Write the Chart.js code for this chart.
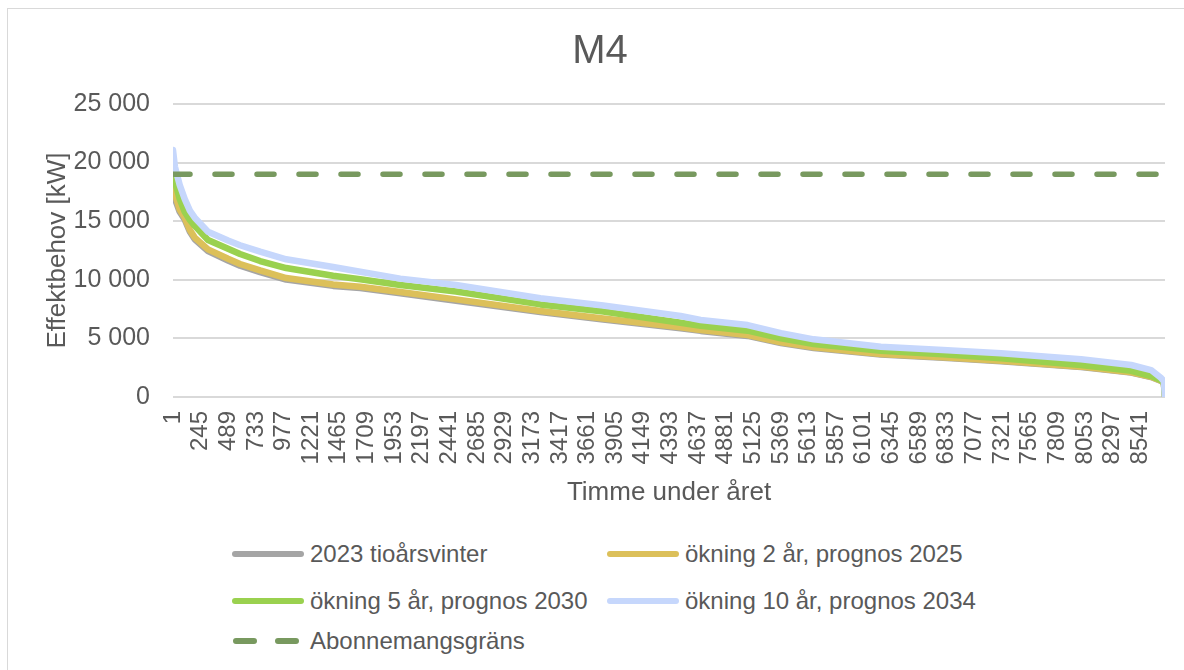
<!DOCTYPE html>
<html>
<head>
<meta charset="utf-8">
<title>M4</title>
<script src="https://cdn.jsdelivr.net/npm/chart.js@4.4.1/dist/chart.umd.min.js"></script>
<style>
body{margin:0;background:#fff;font-family:"Liberation Sans",Arial,sans-serif;color:#595959;}
#wrap{position:relative;width:1184px;height:670px;overflow:hidden;background:#fff;}
#frame{position:absolute;left:7px;top:8px;width:1200px;height:700px;border:1px solid #d9d9d9;}
#chartBox{position:absolute;left:0;top:0;width:1184px;height:520px;}
.item{position:absolute;height:30px;display:flex;align-items:center;font-size:24px;white-space:nowrap;}
.item canvas{margin-right:6px;}
</style>
</head>
<body>
<div id="wrap">
  <div id="frame"></div>
  <div id="chartBox"><canvas id="m4"></canvas></div>
  <div id="legend"></div>
</div>
<script>
// hour of year (sorted duration curve)
const hours = [1, 18, 60, 104, 150, 193, 310, 487, 593, 770, 1000, 1415, 1654, 2008, 2500, 3245, 3800, 4483, 4660, 5075, 5369, 5659, 6251, 6800, 7312, 8019, 8461, 8637, 8726, 8750, 8760];
const vinter2023 = [17240, 16900, 15800, 15150, 14100, 13460, 12450, 11650, 11200, 10660, 10020, 9480, 9290, 8840, 8220, 7240, 6610, 5870, 5640, 5210, 4600, 4180, 3620, 3340, 3060, 2560, 2080, 1710, 1370, 1160, 0];
const prognos2025 = [17940, 17300, 16000, 15300, 14250, 13600, 12600, 11800, 11350, 10800, 10150, 9600, 9410, 8960, 8330, 7340, 6700, 5950, 5720, 5290, 4670, 4240, 3670, 3390, 3100, 2590, 2110, 1730, 1390, 1180, 0];
const prognos2030 = [19090, 18400, 16900, 15810, 15100, 14600, 13400, 12650, 12200, 11600, 11000, 10350, 10040, 9550, 9000, 7900, 7300, 6340, 6080, 5660, 5010, 4520, 3950, 3650, 3300, 2730, 2240, 1790, 1420, 1220, 0];
const prognos2034 = [21070, 19650, 18100, 16900, 15900, 15300, 14100, 13350, 12950, 12400, 11750, 11090, 10690, 10100, 9550, 8420, 7800, 6910, 6570, 6140, 5450, 4920, 4290, 4000, 3730, 3220, 2730, 2300, 1620, 1350, 0];
const limitHours = [1, 8760];
const limitValues = [19000, 19000];

const xTickLabels = [1, 245, 489, 733, 977, 1221, 1465, 1709, 1953, 2197, 2441, 2685, 2929, 3173, 3417, 3661, 3905, 4149, 4393, 4637, 4881, 5125, 5369, 5613, 5857, 6101, 6345, 6589, 6833, 7077, 7321, 7565, 7809, 8053, 8297, 8541];
const yTickLabels = [0, 5000, 10000, 15000, 20000, 25000];

const labels = ['2023 tioårsvinter', 'ökning 2 år, prognos 2025', 'ökning 5 år, prognos 2030', 'ökning 10 år, prognos 2034', 'Abonnemangsgräns'];
const colors = ['#a5a5a5', '#dcc05a', '#9ad14f', '#c6d7fc', '#78995f'];

const txt = '#595959';
const pts = (xs, ys) => xs.map((h, i) => ({x: h, y: ys[i]}));
const fmt = v => String(v).replace(/\B(?=(\d{3})+(?!\d))/g, ' ');

function line(i, ys, order) {
  return {
    label: labels[i], data: pts(hours, ys), borderColor: colors[i], backgroundColor: colors[i],
    borderWidth: 6.5, pointRadius: 0, tension: 0, borderJoinStyle: 'round', borderCapStyle: 'round',
    fill: false, order: order
  };
}

new Chart(document.getElementById('m4'), {
  type: 'line',
  data: {
    datasets: [
      line(0, vinter2023, 4),
      line(1, prognos2025, 3),
      line(2, prognos2030, 2),
      line(3, prognos2034, 1),
      {
        label: labels[4], data: pts(limitHours, limitValues), borderColor: colors[4],
        borderWidth: 5.5, borderDash: [17, 25], borderCapStyle: 'round', pointRadius: 0, fill: false, order: 0
      }
    ]
  },
  options: {
    responsive: true,
    maintainAspectRatio: false,
    animation: false,
    layout: {padding: {left: 35, right: 19, top: 0, bottom: 8}},
    plugins: {
      legend: {display: false},
      tooltip: {enabled: false},
      title: {
        display: true, text: 'M4', color: txt,
        font: {family: 'Liberation Sans', size: 40, weight: 'normal'},
        padding: {top: 28, bottom: 28}
      }
    },
    scales: {
      x: {
        type: 'linear', min: 1, max: 8760,
        afterBuildTicks: s => { s.ticks = xTickLabels.map(v => ({value: v})); },
        afterFit: s => { s.height = 115; },
        grid: {display: false},
        border: {display: false},
        ticks: {
          autoSkip: false, minRotation: 90, maxRotation: 90, padding: 6, color: txt,
          font: {family: 'Liberation Sans', size: 24},
          callback: v => String(v)
        },
        title: {display: true, text: 'Timme under året', color: txt, font: {family: 'Liberation Sans', size: 26}, padding: {top: 0, bottom: 4}}
      },
      y: {
        min: 0, max: 25000,
        afterBuildTicks: s => { s.ticks = yTickLabels.map(v => ({value: v})); },
        afterFit: s => { s.width = 138; },
        grid: {color: '#d9d9d9', lineWidth: 2, drawTicks: false},
        border: {display: false},
        ticks: {padding: 23, color: txt, font: {family: 'Liberation Sans', size: 25}, callback: v => fmt(v)},
        title: {display: true, text: 'Effektbehov [kW]', color: txt, font: {family: 'Liberation Sans', size: 26}, padding: {top: 7, bottom: 0}}
      }
    }
  }
});

// legend laid out in two columns like the original
const legendPos = [[232, 539], [607, 539], [232, 586], [607, 586], [232, 626]];
const legend = document.getElementById('legend');
labels.forEach((lab, i) => {
  const item = document.createElement('div');
  item.className = 'item';
  item.style.left = legendPos[i][0] + 'px';
  item.style.top = legendPos[i][1] + 'px';
  const c = document.createElement('canvas');
  c.width = 72; c.height = 12;
  const g = c.getContext('2d');
  g.strokeStyle = colors[i];
  g.lineWidth = 6;
  g.lineCap = 'round';
  g.beginPath();
  if (i === 4) {
    g.moveTo(4, 6); g.lineTo(22, 6);
    g.moveTo(46, 6); g.lineTo(64, 6);
  } else {
    g.moveTo(3, 6); g.lineTo(69, 6);
  }
  g.stroke();
  const t = document.createElement('span');
  t.textContent = lab;
  item.appendChild(c);
  item.appendChild(t);
  legend.appendChild(item);
});
</script>
</body>
</html>
